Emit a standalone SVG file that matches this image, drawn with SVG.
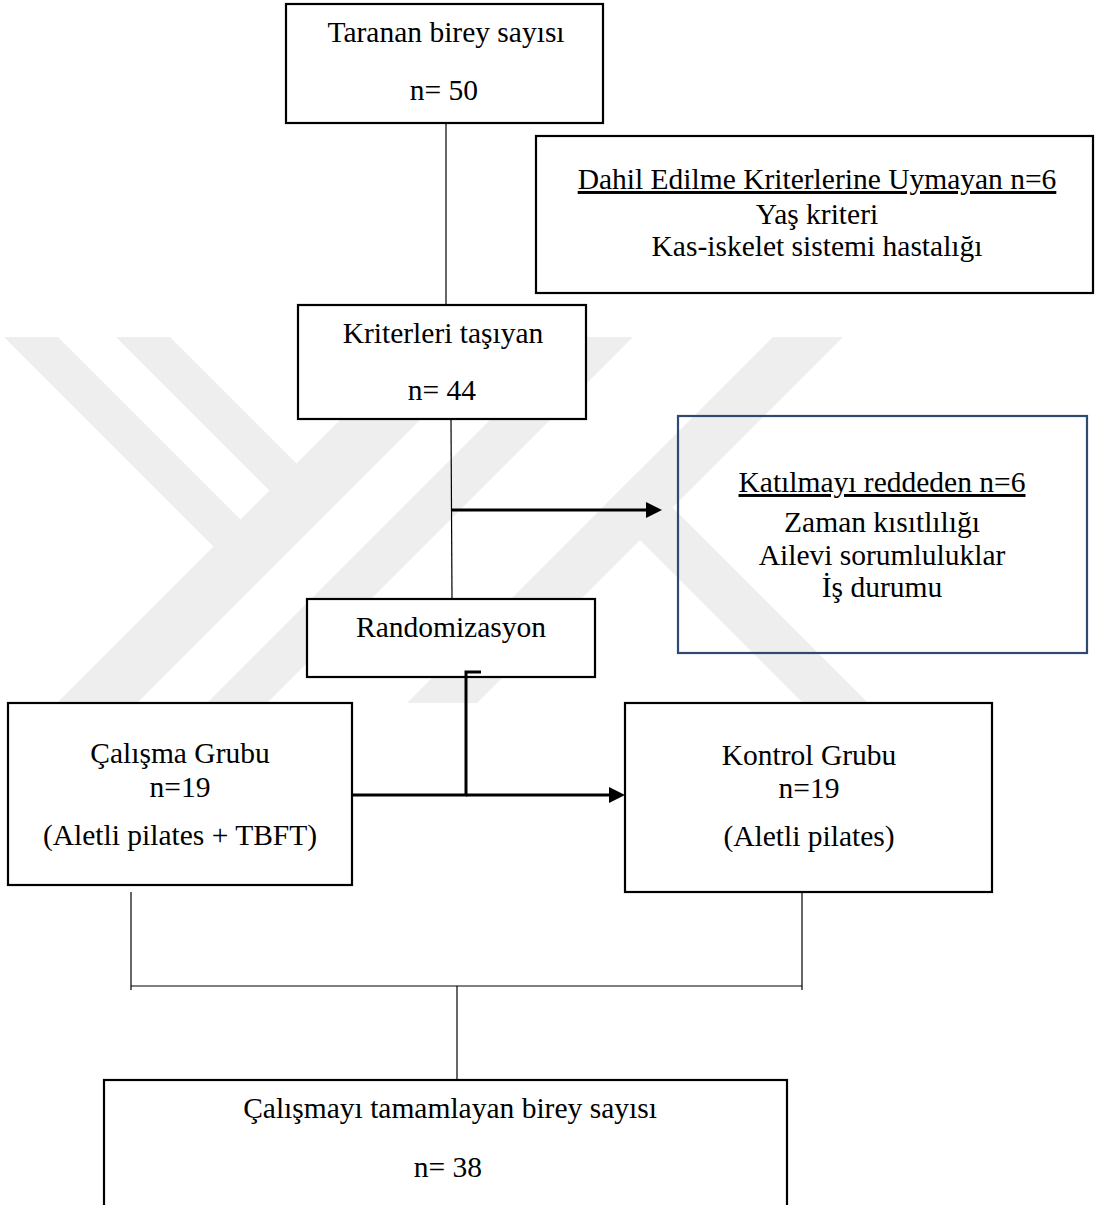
<svg xmlns="http://www.w3.org/2000/svg" width="1096" height="1205" viewBox="0 0 1096 1205">
<style>
.bx{fill:#fff;stroke:#000;stroke-width:2.2}
.bxo{fill:none;stroke:#2e4a70;stroke-width:2.2}
.t{font-family:"Liberation Serif","Times New Roman",serif;font-size:29.5px;fill:#000;text-anchor:middle}
.u{text-decoration:underline}
.thin{stroke:#000;stroke-width:1.2;fill:none}
.thick{stroke:#000;stroke-width:3;fill:none}
.wm{fill:#eeeeee}
</style>
<rect width="1096" height="1205" fill="#fff"/>
<g id="watermark">
<polygon class="wm" points="423,337 503,337 137,703 57,703"/>
<polygon class="wm" points="573,337 633,337 267,703 207,703"/>
<polygon class="wm" points="773,337 843,337 477,703 407,703"/>
<polygon class="wm" points="4,337 58,337 260.5,539.5 233.5,566.5"/>
<polygon class="wm" points="116,337 170,337 316.5,483.5 289.5,510.5"/>
<polygon class="wm" points="605,505 637.5,472.5 868,703 803,703"/>
</g>
<g id="n1">
<rect class="bx" x="286" y="4" width="317" height="119"/>
<text class="t" x="446" y="42">Taranan birey sayısı</text>
<text class="t" x="444" y="100">n= 50</text>
</g>
<g id="n2">
<rect class="bx" x="536" y="136" width="557" height="157"/>
<text class="t u" x="817" y="189">Dahil Edilme Kriterlerine Uymayan n=6</text>
<text class="t" x="817" y="224">Yaş kriteri</text>
<text class="t" x="817" y="256">Kas-iskelet sistemi hastalığı</text>
</g>
<g id="n3">
<rect class="bx" x="298" y="305" width="288" height="114"/>
<text class="t" x="443" y="343">Kriterleri taşıyan</text>
<text class="t" x="442" y="400">n= 44</text>
</g>
<g id="n4">
<rect class="bxo" x="678" y="416" width="409" height="237"/>
<text class="t u" x="882" y="492">Katılmayı reddeden n=6</text>
<text class="t" x="882" y="532">Zaman kısıtlılığı</text>
<text class="t" x="882" y="565">Ailevi sorumluluklar</text>
<text class="t" x="882" y="597">İş durumu</text>
</g>
<g id="n5">
<rect class="bx" x="307" y="599" width="288" height="78"/>
<text class="t" x="451" y="637">Randomizasyon</text>
</g>
<g id="n6">
<rect class="bx" x="8" y="703" width="344" height="182"/>
<text class="t" x="180" y="763">Çalışma Grubu</text>
<text class="t" x="180" y="797">n=19</text>
<text class="t" x="180" y="845">(Aletli pilates + TBFT)</text>
</g>
<g id="n7">
<rect class="bx" x="625" y="703" width="367" height="189"/>
<text class="t" x="809" y="765">Kontrol Grubu</text>
<text class="t" x="809" y="798">n=19</text>
<text class="t" x="809" y="846">(Aletli pilates)</text>
</g>
<g id="n8">
<rect class="bx" x="104" y="1080" width="683" height="140"/>
<text class="t" x="450" y="1118">Çalışmayı tamamlayan birey sayısı</text>
<text class="t" x="448" y="1177">n= 38</text>
</g>
<g id="connectors">
<line class="thin" x1="446" y1="124" x2="446" y2="304"/>
<line class="thin" x1="451" y1="420" x2="452" y2="598"/>
<line class="thick" x1="452" y1="510" x2="648" y2="510"/>
<path d="M646,502 L662,510 L646,518 Z" fill="#000"/>
<polyline class="thick" points="481,672 466,672 466,795 353,795"/>
<line class="thick" x1="466" y1="795" x2="611" y2="795"/>
<path d="M609,787 L625,795 L609,803 Z" fill="#000"/>
<line class="thin" x1="131" y1="892" x2="131" y2="990"/>
<line class="thin" x1="802" y1="893" x2="802" y2="990"/>
<line class="thin" x1="131" y1="986" x2="802" y2="986"/>
<line class="thin" x1="457" y1="986" x2="457" y2="1079"/>
</g>
</svg>
